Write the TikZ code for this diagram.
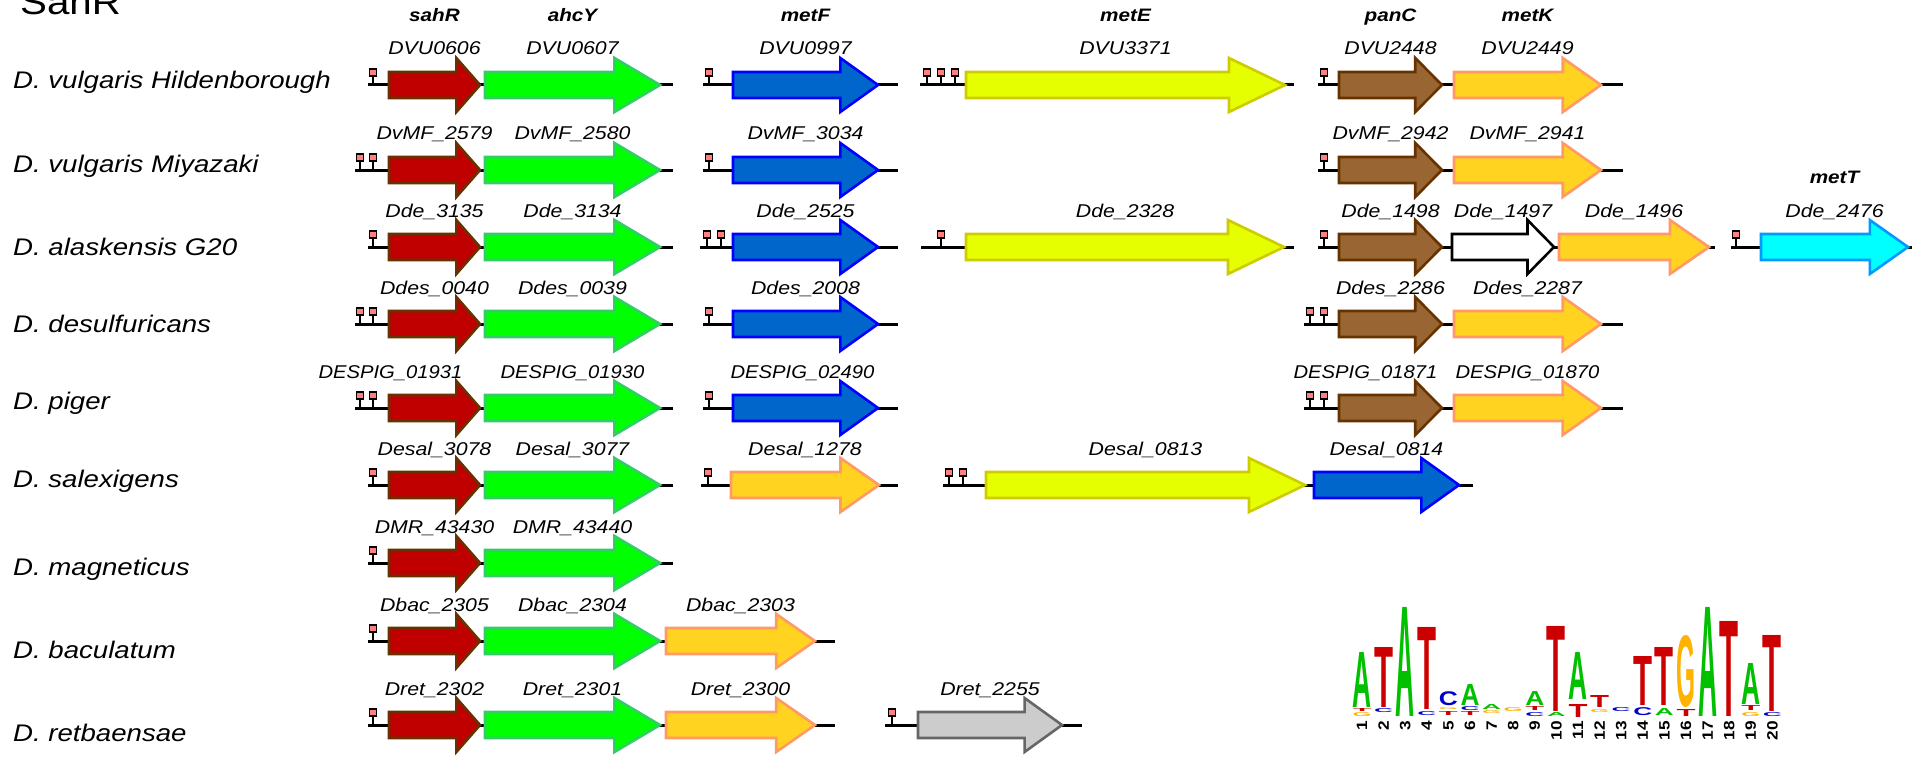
\documentclass[tikz,border=0pt]{standalone}
\usepackage{fontspec}
\setmainfont{Liberation Sans}[FakeStretch=1.15]
\usetikzlibrary{calc}
\definecolor{sahrred}{RGB}{192,0,0}
\definecolor{sahrline}{RGB}{102,51,0}
\definecolor{ahcygreen}{RGB}{0,255,0}
\definecolor{ahcyline}{RGB}{51,204,102}
\definecolor{metfblue}{RGB}{0,102,204}
\definecolor{metfline}{RGB}{0,0,255}
\definecolor{metelime}{RGB}{229,255,0}
\definecolor{meteline}{RGB}{204,204,0}
\definecolor{pancbrown}{RGB}{153,102,51}
\definecolor{pancline}{RGB}{102,51,0}
\definecolor{metkorange}{RGB}{255,211,32}
\definecolor{metkline}{RGB}{255,153,102}
\definecolor{mettcyan}{RGB}{0,255,255}
\definecolor{mettline}{RGB}{0,153,255}
\definecolor{othergray}{RGB}{204,204,204}
\definecolor{otherline}{RGB}{102,102,102}
\definecolor{sitepink}{RGB}{255,128,128}
\definecolor{logoA}{RGB}{0,192,0}
\definecolor{logoT}{RGB}{204,0,0}
\definecolor{logoC}{RGB}{0,0,204}
\definecolor{logoG}{RGB}{255,179,0}

\tikzset{
  gene/.style={line width=2.6pt, line join=miter},
  sahr/.style={gene, fill=sahrred, draw=sahrline},
  ahcy/.style={gene, fill=ahcygreen, draw=ahcyline},
  metf/.style={gene, fill=metfblue, draw=metfline},
  mete/.style={gene, fill=metelime, draw=meteline},
  panc/.style={gene, fill=pancbrown, draw=pancline},
  metk/.style={gene, fill=metkorange, draw=metkline},
  mett/.style={gene, fill=mettcyan, draw=mettline},
  blank/.style={gene, fill=white, draw=black},
  other/.style={gene, fill=othergray, draw=otherline},
  chrom/.style={line width=3pt, black},
  sitestem/.style={line width=1.8pt, black},
  sitebox/.style={draw=black, fill=sitepink, line width=1.8pt},
  genelabel/.style={font=\fontsize{18.5}{20}\selectfont\itshape, anchor=base, inner sep=0pt},
  header/.style={font=\fontsize{18}{20}\selectfont\bfseries\itshape, anchor=base, inner sep=0pt},
  species/.style={font=\fontsize{24}{26}\selectfont\itshape, anchor=base west, inner sep=0pt},
  posnum/.style={font=\fontsize{15}{15}\selectfont\bfseries, rotate=90, anchor=east, inner sep=0pt}
}

% gene arrow: [label shift], row y, start x, tip x, style, label, name
\newcommand{\gene}[7][0]{%
  \pgfmathsetmacro{\ghead}{min(0.26*(#4-#3),56)}%
  \draw[#5] (#3,{#2-13}) -- ({#4-\ghead},{#2-13}) -- ({#4-\ghead},{#2-27}) -- (#4,#2)
    -- ({#4-\ghead},{#2+27}) -- ({#4-\ghead},{#2+13}) -- (#3,{#2+13}) -- cycle;
  \node[genelabel] (#7) at ({(#3+#4)/2+#1},{#2-30}) {#6};
}
% binding site: x, row y
\newcommand{\site}[2]{%
  \draw[sitestem] (#1,#2) -- (#1,{#2-9});
  \draw[sitebox] ({#1-3.5},{#2-16}) rectangle ({#1+3.5},{#2-9});
}
\newcommand{\squeeze}[1]{\scalebox{0.95}[1]{#1}}

\begin{document}
\begin{tikzpicture}[x=1pt, y=-1pt]
  \useasboundingbox (0,0) rectangle (1917,757);

  \node[anchor=base west, inner sep=0pt, font=\fontsize{35}{40}\selectfont] (title) at (20,15) {SahR};

  % column headers
  \node[header] (hsahr) at (434.5,22) {sahR};
  \node[header] (hahcy) at (572.5,22) {ahcY};
  \node[header] (hmetf) at (805.5,22) {metF};
  \node[header] (hmete) at (1125.5,22) {metE};
  \node[header] (hpanc) at (1390.5,22) {panC};
  \node[header] (hmetk) at (1527.5,22) {metK};
  \node[header] (hmett) at (1834.5,183) {metT};

  % species
  \node[species] (sp1) at (13,89) {D. vulgaris Hildenborough};
  \node[species] (sp2) at (13,172) {D. vulgaris Miyazaki};
  \node[species] (sp3) at (13,255) {D. alaskensis G20};
  \node[species] (sp4) at (13,332) {D. desulfuricans};
  \node[species] (sp5) at (13,409) {D. piger};
  \node[species] (sp6) at (13,487) {D. salexigens};
  \node[species] (sp7) at (13,575) {D. magneticus};
  \node[species] (sp8) at (13,658) {D. baculatum};
  \node[species] (sp9) at (13,741) {D. retbaensae};

  % D. vulgaris Hildenborough
  \draw[chrom] (368,85) -- (673,85);
  \site{373}{85}
  \gene{85}{389}{480}{sahr}{DVU0606}{g11}
  \gene{85}{485}{660}{ahcy}{DVU0607}{g12}
  \draw[chrom] (703,85) -- (898,85);
  \site{709}{85}
  \gene{85}{733}{878}{metf}{DVU0997}{g13}
  \draw[chrom] (920,85) -- (1294,85);
  \site{927}{85}\site{941}{85}\site{955}{85}
  \gene{85}{966}{1285}{mete}{DVU3371}{g14}
  \draw[chrom] (1318,85) -- (1623,85);
  \site{1324}{85}
  \gene{85}{1339}{1442}{panc}{DVU2448}{g15}
  \gene{85}{1454}{1601}{metk}{DVU2449}{g16}

  % D. vulgaris Miyazaki
  \draw[chrom] (355,170) -- (673,170);
  \site{360}{170}\site{373}{170}
  \gene{170}{389}{480}{sahr}{DvMF\_2579}{g21}
  \gene{170}{485}{660}{ahcy}{DvMF\_2580}{g22}
  \draw[chrom] (703,170) -- (898,170);
  \site{709}{170}
  \gene{170}{733}{878}{metf}{DvMF\_3034}{g23}
  \draw[chrom] (1318,170) -- (1623,170);
  \site{1324}{170}
  \gene{170}{1339}{1442}{panc}{DvMF\_2942}{g24}
  \gene{170}{1454}{1601}{metk}{DvMF\_2941}{g25}

  % D. alaskensis G20
  \draw[chrom] (368,247) -- (673,247);
  \site{373}{247}
  \gene{247}{389}{480}{sahr}{Dde\_3135}{g31}
  \gene{247}{485}{660}{ahcy}{Dde\_3134}{g32}
  \draw[chrom] (700,247) -- (898,247);
  \site{707}{247}\site{721}{247}
  \gene{247}{733}{878}{metf}{Dde\_2525}{g33}
  \draw[chrom] (921,247) -- (1294,247);
  \site{941}{247}
  \gene{247}{966}{1284}{mete}{Dde\_2328}{g34}
  \draw[chrom] (1318,247) -- (1715,247);
  \site{1324}{247}
  \gene{247}{1339}{1442}{panc}{Dde\_1498}{g35}
  \gene{247}{1452}{1554}{blank}{Dde\_1497}{g36}
  \gene{247}{1559}{1709}{metk}{Dde\_1496}{g37}
  \draw[chrom] (1731,247) -- (1912,247);
  \site{1736}{247}
  \gene{247}{1761}{1908}{mett}{Dde\_2476}{g38}

  % D. desulfuricans
  \draw[chrom] (355,324) -- (673,324);
  \site{360}{324}\site{373}{324}
  \gene{324}{389}{480}{sahr}{Ddes\_0040}{g41}
  \gene{324}{485}{660}{ahcy}{Ddes\_0039}{g42}
  \draw[chrom] (703,324) -- (898,324);
  \site{709}{324}
  \gene{324}{733}{878}{metf}{Ddes\_2008}{g43}
  \draw[chrom] (1304,324) -- (1623,324);
  \site{1310}{324}\site{1324}{324}
  \gene{324}{1339}{1442}{panc}{Ddes\_2286}{g44}
  \gene{324}{1454}{1601}{metk}{Ddes\_2287}{g45}

  % D. piger
  \draw[chrom] (355,408) -- (673,408);
  \site{360}{408}\site{373}{408}
  \gene[-44]{408}{389}{480}{sahr}{\squeeze{DESPIG\_01931}}{g51}
  \gene{408}{485}{660}{ahcy}{\squeeze{DESPIG\_01930}}{g52}
  \draw[chrom] (703,408) -- (898,408);
  \site{709}{408}
  \gene[-3]{408}{733}{878}{metf}{\squeeze{DESPIG\_02490}}{g53}
  \draw[chrom] (1304,408) -- (1623,408);
  \site{1310}{408}\site{1324}{408}
  \gene[-25]{408}{1339}{1442}{panc}{\squeeze{DESPIG\_01871}}{g54}
  \gene{408}{1454}{1601}{metk}{\squeeze{DESPIG\_01870}}{g55}

  % D. salexigens
  \draw[chrom] (368,485) -- (673,485);
  \site{373}{485}
  \gene{485}{389}{480}{sahr}{Desal\_3078}{g61}
  \gene{485}{485}{660}{ahcy}{Desal\_3077}{g62}
  \draw[chrom] (701,485) -- (898,485);
  \site{708}{485}
  \gene{485}{731}{879}{metk}{Desal\_1278}{g63}
  \draw[chrom] (943,485) -- (1473,485);
  \site{949}{485}\site{963}{485}
  \gene{485}{986}{1305}{mete}{Desal\_0813}{g64}
  \gene{485}{1314}{1459}{metf}{Desal\_0814}{g65}

  % D. magneticus
  \draw[chrom] (368,563) -- (673,563);
  \site{373}{563}
  \gene{563}{389}{480}{sahr}{DMR\_43430}{g71}
  \gene{563}{485}{660}{ahcy}{DMR\_43440}{g72}

  % D. baculatum
  \draw[chrom] (368,641) -- (835,641);
  \site{373}{641}
  \gene{641}{389}{480}{sahr}{Dbac\_2305}{g81}
  \gene{641}{485}{660}{ahcy}{Dbac\_2304}{g82}
  \gene{641}{666}{815}{metk}{Dbac\_2303}{g83}

  % D. retbaensae
  \draw[chrom] (368,725) -- (835,725);
  \site{373}{725}
  \gene{725}{389}{480}{sahr}{Dret\_2302}{g91}
  \gene{725}{485}{660}{ahcy}{Dret\_2301}{g92}
  \gene{725}{666}{815}{metk}{Dret\_2300}{g93}
  \draw[chrom] (885,725) -- (1082,725);
  \site{892}{725}
  \gene{725}{918}{1062}{other}{Dret\_2255}{g94}

  % sequence logo
  \foreach \n/\b/\t/\l/\c [count=\k] in {
      1/708/653/A/logoA, 1/712/709/T/logoT, 1/717/713/G/logoG,
      2/708/648/T/logoT, 2/713/709/C/logoC,
      3/717/608/A/logoA,
      4/710/628/T/logoT, 4/716/712/C/logoC,
      5/706/692/C/logoC, 5/710/708/G/logoG, 5/716/712/T/logoT,
      6/706/685/A/logoA, 6/711/707/C/logoC, 6/716/712/T/logoT,
      7/710/705/A/logoA, 7/714/711/G/logoG,
      8/712/708/G/logoG,
      9/706/692/A/logoA, 9/711/707/T/logoT, 9/717/713/C/logoC,
      10/712/627/T/logoT, 10/717/713/A/logoA,
      11/700/653/A/logoA, 11/718/705/T/logoT,
      12/708/696/T/logoT, 12/713/710/G/logoG,
      13/712/708/C/logoC,
      14/706/657/T/logoT, 14/716/708/C/logoC,
      15/706/648/T/logoT, 15/716/709/A/logoA,
      16/708/636/G/logoG, 16/717/710/T/logoT,
      17/717/608/A/logoA,
      18/717/622/T/logoT,
      19/705/664/A/logoA, 19/711/706/T/logoT, 19/717/713/G/logoG,
      20/712/636/T/logoT, 20/717/713/C/logoC} {
    \pgfmathsetmacro{\lh}{\b-\t}
    \node[inner sep=0pt, anchor=south, text=\c] (let\k) at ({1362+21.6*(\n-1)},\b)
      {\resizebox*{19pt}{\lh pt}{\bfseries \l}};
  }
  \foreach \n in {1,...,20}
    \node[posnum] (pos\n) at ({1362+21.6*(\n-1)},721) {\n};
\end{tikzpicture}
\end{document}
